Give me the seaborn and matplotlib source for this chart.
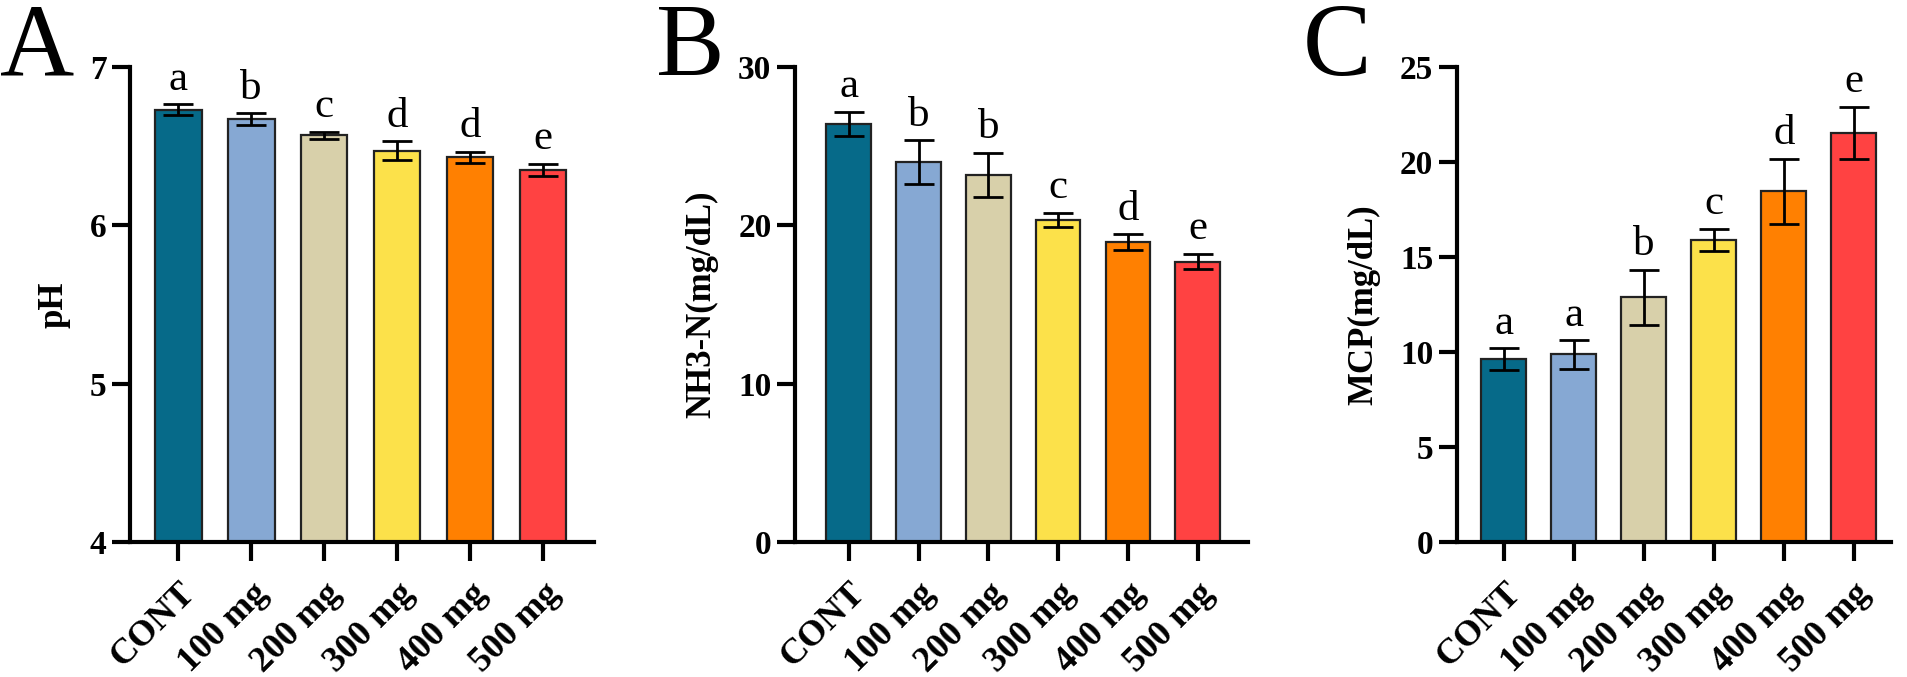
import matplotlib
matplotlib.use('Agg')
import matplotlib.pyplot as plt
import seaborn as sns
import pandas as pd

# groups and colours
groups = ['CONT', '100 mg', '200 mg', '300 mg', '400 mg', '500 mg']
colors = ['#066A89', '#86A8D3', '#D8D0AA', '#FCE14A', '#FF8001', '#FF4242']

# panel A: pH
ph_mean = [6.73, 6.67, 6.57, 6.47, 6.43, 6.35]
ph_err = [0.035, 0.037, 0.022, 0.06, 0.034, 0.037]
ph_sig = ['a', 'b', 'c', 'd', 'd', 'e']

# panel B: NH3-N
nh3_mean = [26.4, 24.0, 23.2, 20.35, 18.95, 17.7]
nh3_err = [0.78, 1.37, 1.4, 0.44, 0.49, 0.48]
nh3_sig = ['a', 'b', 'b', 'c', 'd', 'e']

# panel C: MCP
mcp_mean = [9.62, 9.87, 12.87, 15.9, 18.45, 21.52]
mcp_err = [0.58, 0.74, 1.46, 0.6, 1.73, 1.38]
mcp_sig = ['a', 'a', 'b', 'c', 'd', 'e']

sns.set_style('ticks')
plt.rcParams['font.family'] = ['Liberation Serif', 'DejaVu Serif']
plt.rcParams.update({'text.color': 'black', 'axes.labelcolor': 'black',
                     'xtick.color': 'black', 'ytick.color': 'black',
                     'axes.edgecolor': 'black'})

fig = plt.figure(figsize=(19.07, 6.77), dpi=100)

panels = [
    ('A', ph_mean, ph_err, ph_sig, 'pH', (4, 7), [4, 5, 6, 7],
     [0.0682, 0.1994, 0.2433, 0.7016], (-0.66, 5.70), 0.0),
    ('B', nh3_mean, nh3_err, nh3_sig, 'NH3-N(mg/dL)', (0, 30), [0, 10, 20, 30],
     [0.4169, 0.1994, 0.2375, 0.7016], (-0.77, 5.72), 0.344),
    ('C', mcp_mean, mcp_err, mcp_sig, 'MCP(mg/dL)', (0, 25), [0, 5, 10, 15, 20, 25],
     [0.7640, 0.1994, 0.2276, 0.7016], (-0.67, 5.53), 0.683),
]

for letter, mean, err, sig, ylabel, ylim, yticks, rect, xlim, lx in panels:
    ax = fig.add_axes(rect)
    df = pd.DataFrame({'group': groups, 'value': mean})
    sns.barplot(data=df, x='group', y='value', hue='group', palette=colors,
                saturation=1, width=0.64, edgecolor='#222222', linewidth=1.6,
                legend=False, ax=ax)
    ax.errorbar(range(len(groups)), mean, yerr=err, fmt='none', ecolor='black',
                elinewidth=2.0, capsize=11, capthick=2.0, zorder=5)
    span = ylim[1] - ylim[0]
    for i, (m, e, s) in enumerate(zip(mean, err, sig)):
        ax.text(i, m + e + span * 0.012, s, ha='center', va='bottom',
                fontsize=31, color='black')
    ax.set_ylim(*ylim)
    ax.set_xlim(*xlim)
    ax.set_yticks(yticks)
    ax.set_xlabel('')
    ax.set_ylabel(ylabel, fontsize=25, fontweight='bold', labelpad=14)
    sns.despine(ax=ax)
    for sp in ['left', 'bottom']:
        ax.spines[sp].set_linewidth(3.0)
        ax.spines[sp].set_color('black')
    ax.tick_params(axis='y', width=3.0, length=13, labelsize=24, pad=4)
    ax.tick_params(axis='x', width=3.0, length=14, labelsize=26, pad=11)
    for lab in ax.get_yticklabels():
        lab.set_fontweight('bold')
    ax.set_xticks(range(len(groups)))
    ax.set_xticklabels(groups, rotation=45, ha='right', rotation_mode='anchor',
                       fontweight='bold')
    fig.text(lx, 0.995, letter, fontsize=74, va='top', ha='left')

plt.savefig('out.png', dpi=100)
